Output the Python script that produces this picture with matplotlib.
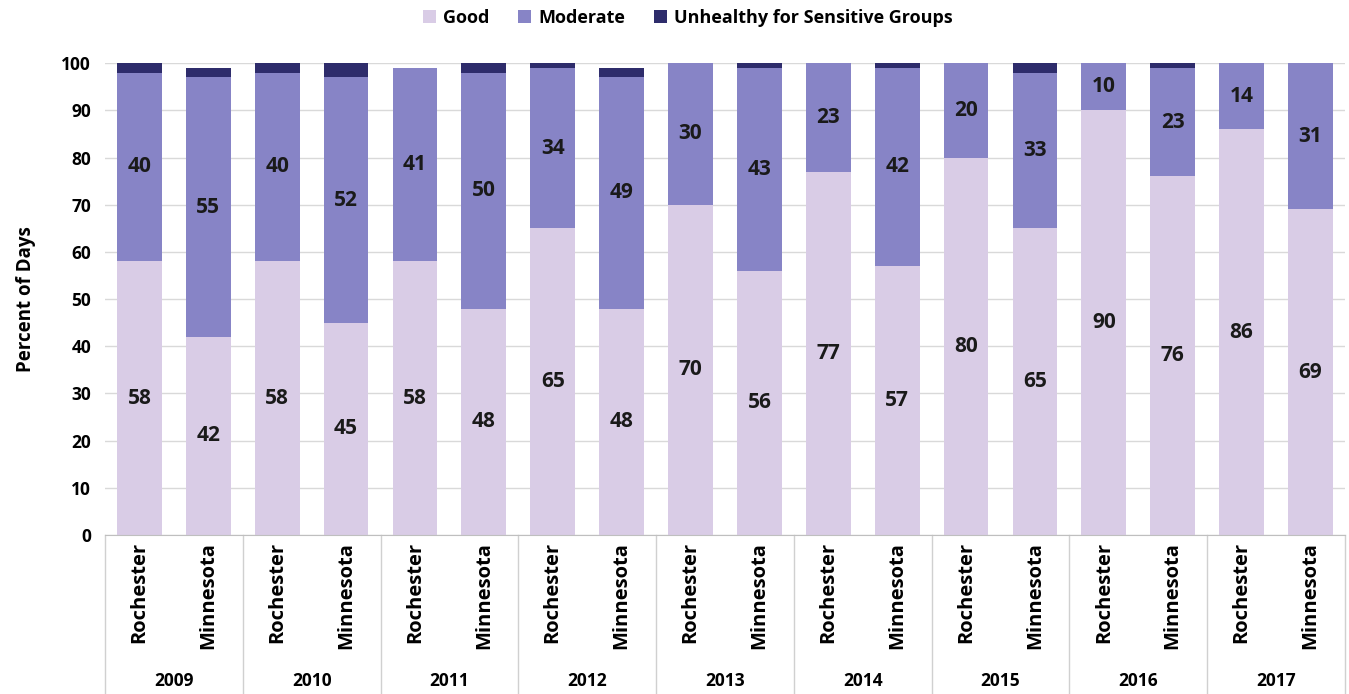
import matplotlib.pyplot as plt
import numpy as np

plt.rcParams['font.family'] = ['Open Sans', 'DejaVu Sans']

years = ['2009', '2010', '2011', '2012', '2013', '2014', '2015', '2016', '2017']
places = ['Rochester', 'Minnesota']
good = [58, 42, 58, 45, 58, 48, 65, 48, 70, 56, 77, 57, 80, 65, 90, 76, 86, 69]
moderate = [40, 55, 40, 52, 41, 50, 34, 49, 30, 43, 23, 42, 20, 33, 10, 23, 14, 31]
unhealthy = [2, 2, 2, 3, 0, 2, 1, 2, 0, 1, 0, 1, 0, 2, 0, 1, 0, 0]

c_good = '#d9cce6'
c_mod = '#8784c6'
c_unh = '#2e2c6b'

fig = plt.figure(figsize=(13.49, 6.94), dpi=100)
ax = fig.add_axes([0.0778, 0.229, 0.9192, 0.680])

x = np.arange(len(good))
good = np.array(good)
moderate = np.array(moderate)
unhealthy = np.array(unhealthy)
w = 0.65
ax.bar(x, good, w, color=c_good, label='Good', zorder=2)
ax.bar(x, moderate, w, bottom=good, color=c_mod, label='Moderate', zorder=2)
ax.bar(x, unhealthy, w, bottom=good + moderate, color=c_unh,
       label='Unhealthy for Sensitive Groups', zorder=2)

for i in x:
    ax.text(i, good[i] / 2, str(good[i]), ha='center', va='center',
            fontsize=15, fontweight='bold', color='#1a1a1a', zorder=3)
    ax.text(i, good[i] + moderate[i] / 2, str(moderate[i]), ha='center', va='center',
            fontsize=15, fontweight='bold', color='#1a1a1a', zorder=3)

ax.set_xlim(-0.5, len(good) - 0.5)
ax.set_ylim(0, 100)
ax.set_yticks(np.arange(0, 101, 10))
ax.tick_params(axis='y', length=0, labelsize=12.5, pad=10)
for lab in ax.get_yticklabels():
    lab.set_fontweight('bold')
ax.set_xticks([])
ax.grid(axis='y', color='#d9d9d9', linewidth=1, zorder=0)
for s in ['top', 'right', 'left']:
    ax.spines[s].set_visible(False)
ax.spines['bottom'].set_color('#bfbfbf')
ax.set_ylabel('Percent of Days', fontsize=13.5, fontweight='bold', labelpad=18)

# two-level category axis
trans = ax.get_xaxis_transform()
for g in range(len(years) + 1):
    ax.plot([g * 2 - 0.5, g * 2 - 0.5], [0, -0.34], transform=trans,
            color='#d0d0d0', linewidth=1, clip_on=False)
for i in x:
    ax.text(i, -0.015, places[i % 2], transform=trans, rotation=90,
            ha='center', va='top', fontsize=14.5, fontweight='bold')
for g, yr in enumerate(years):
    ax.text(g * 2 + 0.5, -0.31, yr, transform=trans, ha='center', va='center',
            fontsize=12.5, fontweight='bold')

ax.legend(loc='upper center', bbox_to_anchor=(0.47, 1.15), ncol=3, frameon=False,
          handlelength=0.7, handleheight=0.7, columnspacing=1.6,
          handletextpad=0.4, prop={'weight': 'bold', 'size': 13})

fig.savefig('out.png', dpi=100)
